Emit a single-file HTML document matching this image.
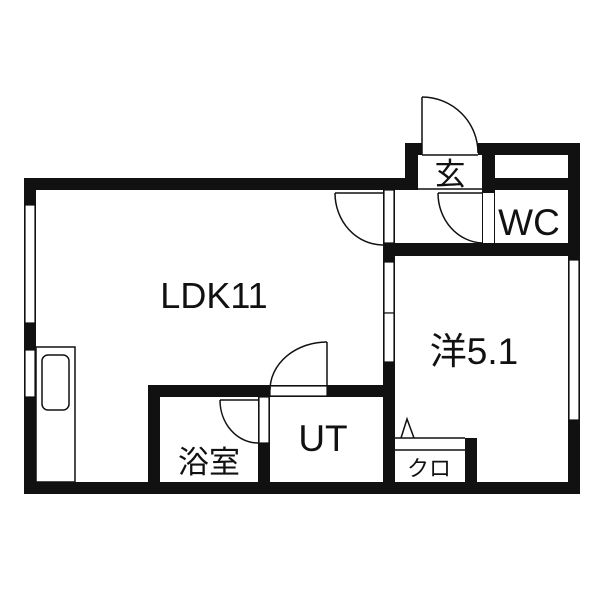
<!DOCTYPE html><html><head><style>body{margin:0;background:#fff}svg text{font-family:"Liberation Sans","Noto Sans CJK JP",sans-serif;fill:#111}</style></head><body>
<svg width="600" height="600" viewBox="0 0 600 600" xmlns="http://www.w3.org/2000/svg">
<g fill="#111">
<rect x="24" y="178" width="394" height="12"/>
<rect x="24" y="178" width="12" height="316"/>
<rect x="24" y="482" width="556" height="12"/>
<rect x="568" y="143" width="12" height="351"/>
<rect x="405" y="143" width="175" height="12"/>
<rect x="405" y="143" width="13" height="47"/>
<rect x="482" y="143" width="13" height="113"/>
<rect x="495" y="178" width="73" height="12"/>
<rect x="383" y="243" width="197" height="13"/>
<rect x="383" y="178" width="12" height="316"/>
<rect x="148" y="385" width="247" height="12"/>
<rect x="148" y="385" width="12" height="109"/>
<rect x="258" y="385" width="12" height="109"/>
<rect x="465" y="438" width="12" height="56"/>
</g>
<g fill="#fff" stroke="#111" stroke-width="1.2">
<rect x="25" y="205" width="10" height="118"/>
<rect x="25" y="350" width="10" height="47"/>
<rect x="422" y="143" width="56" height="12" stroke="none"/>
<rect x="384" y="190" width="10" height="53"/>
<rect x="384" y="262" width="10" height="51"/>
<rect x="384" y="313" width="10" height="49"/>
<rect x="270" y="386" width="57" height="10"/>
<rect x="259" y="397" width="10" height="46"/>
<rect x="569" y="260" width="10" height="160"/>
<rect x="483" y="193" width="11" height="50" stroke="none"/>
</g>
<g fill="none" stroke="#111" stroke-width="1.5">
<line x1="422" y1="155" x2="478" y2="155"/>
<line x1="418" y1="189" x2="482" y2="189"/>
<line x1="422" y1="97" x2="422" y2="155"/>
<path d="M422 97 A56 56 0 0 1 478 153"/>
<line x1="438" y1="193" x2="482" y2="193"/>
<path d="M438 193 A46 50 0 0 0 482 243"/>
<line x1="335" y1="193" x2="383" y2="193"/>
<path d="M335 193 A48 52 0 0 0 383 245"/>
<line x1="327" y1="342" x2="327" y2="386"/>
<path d="M327 342 A57 48 0 0 0 270 390"/>
<line x1="220" y1="400" x2="258" y2="400"/>
<path d="M220 400 A38 43 0 0 0 258 443"/>
<rect x="36" y="347" width="39" height="135"/>
<rect x="42" y="355" width="27" height="55" rx="6"/>
<line x1="395" y1="450" x2="465" y2="450"/>
<line x1="395" y1="438" x2="465" y2="438"/>
<path d="M401 438 L407 419 L414 438"/>
</g>
<text x="214" y="308" font-size="36" text-anchor="middle">LDK11</text>
<text x="474" y="364" font-size="37" text-anchor="middle">洋5.1</text>
<text x="323" y="451" font-size="37" text-anchor="middle">UT</text>
<text x="209" y="473" font-size="31" text-anchor="middle">浴室</text>
<text x="450" y="185" font-size="31" text-anchor="middle">玄</text>
<text x="529" y="235" font-size="37" text-anchor="middle">WC</text>
<text x="429" y="476" font-size="22" text-anchor="middle">クロ</text>
</svg></body></html>
